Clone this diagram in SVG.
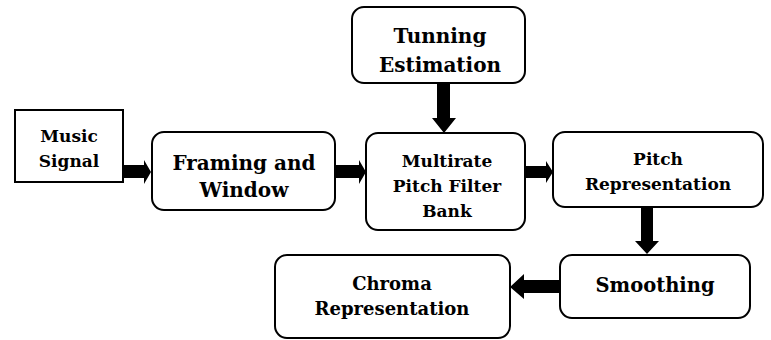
<svg xmlns="http://www.w3.org/2000/svg" width="771" height="340" viewBox="0 0 771 340">
<style>
.box{fill:#fff;stroke:#000;stroke-width:2}
.t{font-family:"DejaVu Serif",serif;font-weight:bold;fill:#000;text-anchor:middle}
.s{font-size:17px}
.arr{fill:#000}
</style>
<rect width="771" height="340" fill="#fff"/>
<g id="music"><rect class="box" x="15" y="110" width="108" height="72"/>
<text class="t s" x="69" y="142">Music</text><text class="t s" x="69" y="167">Signal</text></g>
<g id="framing"><rect class="box" x="152" y="132" width="183" height="78" rx="12"/>
<text class="t" x="244" y="170" font-size="20">Framing and</text><text class="t" x="244" y="197" font-size="20">Window</text></g>
<g id="tunning"><rect class="box" x="352" y="7" width="173" height="76" rx="12"/>
<text class="t" x="440" y="43" font-size="20">Tunning</text><text class="t" x="440" y="72" font-size="20">Estimation</text></g>
<g id="multirate"><rect class="box" x="366" y="133" width="159" height="97" rx="12"/>
<text class="t s" x="447" y="167">Multirate</text><text class="t s" x="447" y="192">Pitch Filter</text><text class="t s" x="447" y="217">Bank</text></g>
<g id="pitch"><rect class="box" x="553" y="132" width="210" height="75" rx="12"/>
<text class="t s" x="658" y="165">Pitch</text><text class="t s" x="658" y="190">Representation</text></g>
<g id="smoothing"><rect class="box" x="560" y="255" width="190" height="63" rx="12"/>
<text class="t" x="655" y="292" font-size="19.5">Smoothing</text></g>
<g id="chroma"><rect class="box" x="275" y="255" width="235" height="83" rx="12"/>
<text class="t" x="392" y="290" font-size="18">Chroma</text><text class="t" x="392" y="315" font-size="18">Representation</text></g>
<g id="connectors">
<polygon class="arr" points="123,165 144,165 144,160 151,172 144,184 144,178 123,178"/>
<polygon class="arr" points="336,165 359,165 359,160 366,172 359,184 359,178 336,178"/>
<polygon class="arr" points="526,166 546,166 546,161 553,172 546,183 546,178 526,178"/>
<polygon class="arr" points="437,84 450,84 450,118 456,118 444,133 432,118 437,118"/>
<polygon class="arr" points="641,208 653,208 653,241 659,241 647,254 635,241 641,241"/>
<polygon class="arr" points="559,280 524,280 524,274 510,287 524,299 524,293 559,293"/>
</g>
</svg>
